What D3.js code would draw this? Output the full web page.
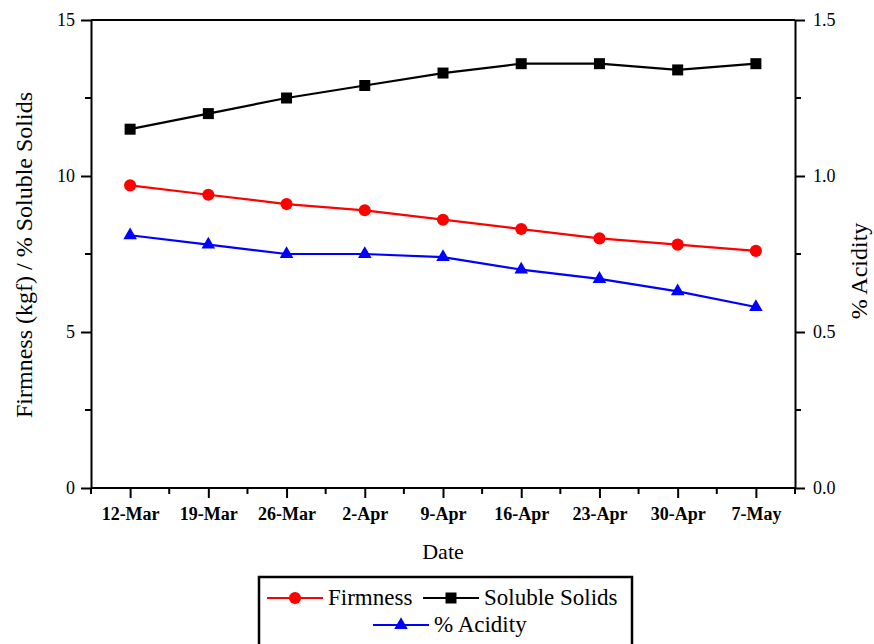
<!DOCTYPE html>
<html>
<head>
<meta charset="utf-8">
<script src="https://cdn.jsdelivr.net/npm/d3@7"></script>
<style>
  html, body { margin: 0; padding: 0; background: #fff; }
  svg { display: block; }
</style>
</head>
<body>
<svg id="chart" width="874" height="644"></svg>
<script>
// Sampling dates
const dates = ["12-Mar", "19-Mar", "26-Mar", "2-Apr", "9-Apr", "16-Apr", "23-Apr", "30-Apr", "7-May"];
// Left axis series
const firmness = [9.7, 9.4, 9.1, 8.9, 8.6, 8.3, 8.0, 7.8, 7.6];
const solubleSolids = [11.5, 12.0, 12.5, 12.9, 13.3, 13.6, 13.6, 13.4, 13.6];
// Right axis series
const acidity = [0.81, 0.78, 0.75, 0.75, 0.74, 0.70, 0.67, 0.63, 0.58];
// Axis ticks
const leftTicks = [0, 5, 10, 15];
const rightTicks = [0.0, 0.5, 1.0, 1.5];

const FONT = "Liberation Serif";
const svg = d3.select("#chart");
const plot = { left: 91, right: 795, top: 20, bottom: 488 };

const x = d3.scaleLinear().domain([-0.5, dates.length - 0.5]).range([plot.left, plot.right]);
const yL = d3.scaleLinear().domain([0, 15]).range([plot.bottom, plot.top]);
const yR = d3.scaleLinear().domain([0, 1.5]).range([plot.bottom, plot.top]);

// Frame top line
svg.append("line")
  .attr("x1", plot.left).attr("x2", plot.right)
  .attr("y1", plot.top).attr("y2", plot.top)
  .attr("stroke", "#000").attr("stroke-width", 2);

// Minor ticks (between categories and between major values)
const xMinor = d3.range(dates.length + 1).map(i => i - 0.5);
const g = svg.append("g");
g.selectAll(".xminor").data(xMinor).join("line")
  .attr("x1", d => x(d)).attr("x2", d => x(d))
  .attr("y1", plot.bottom).attr("y2", plot.bottom + 6)
  .attr("stroke", "#000").attr("stroke-width", 2);

const leftMinor = [2.5, 7.5, 12.5];
g.selectAll(".lminor").data(leftMinor).join("line")
  .attr("x1", plot.left - 6).attr("x2", plot.left)
  .attr("y1", d => yL(d)).attr("y2", d => yL(d))
  .attr("stroke", "#000").attr("stroke-width", 2);
const rightMinor = [0.25, 0.75, 1.25];
g.selectAll(".rminor").data(rightMinor).join("line")
  .attr("x1", plot.right).attr("x2", plot.right + 6)
  .attr("y1", d => yR(d)).attr("y2", d => yR(d))
  .attr("stroke", "#000").attr("stroke-width", 2);

// Bottom axis
const xAxis = d3.axisBottom(x)
  .tickValues(d3.range(dates.length))
  .tickFormat(i => dates[i])
  .tickSize(10).tickSizeOuter(0).tickPadding(9);
const gx = svg.append("g").attr("transform", `translate(0,${plot.bottom})`).call(xAxis);
gx.select(".domain").attr("stroke-width", 2).attr("d", `M${plot.left},0H${plot.right}`);
gx.selectAll(".tick line").attr("stroke-width", 2);
gx.selectAll(".tick text")
  .attr("font-family", FONT).attr("font-size", 18).attr("font-weight", "bold")
  .attr("fill", "#000");

// Left axis
const yAxisL = d3.axisLeft(yL).tickValues(leftTicks).tickFormat(d3.format("d"))
  .tickSize(10).tickSizeOuter(0).tickPadding(6);
const gyl = svg.append("g").attr("transform", `translate(${plot.left},0)`).call(yAxisL);
gyl.select(".domain").attr("stroke-width", 2);
gyl.selectAll(".tick line").attr("stroke-width", 2);
gyl.selectAll(".tick text").attr("font-family", FONT).attr("font-size", 18).attr("fill", "#000");

// Right axis
const yAxisR = d3.axisRight(yR).tickValues(rightTicks).tickFormat(d3.format(".1f"))
  .tickSize(10).tickSizeOuter(0).tickPadding(8);
const gyr = svg.append("g").attr("transform", `translate(${plot.right},0)`).call(yAxisR);
gyr.select(".domain").attr("stroke-width", 2);
gyr.selectAll(".tick line").attr("stroke-width", 2);
gyr.selectAll(".tick text").attr("font-family", FONT).attr("font-size", 18).attr("fill", "#000");

// Axis titles
svg.append("text")
  .attr("transform", `translate(32,255) rotate(-90)`)
  .attr("text-anchor", "middle").attr("font-family", FONT).attr("font-size", 24).attr("fill", "#000")
  .text("Firmness (kgf) / % Soluble Solids");
svg.append("text")
  .attr("transform", `translate(867,271) rotate(-90)`)
  .attr("text-anchor", "middle").attr("font-family", FONT).attr("font-size", 24).attr("fill", "#000")
  .text("% Acidity");
svg.append("text")
  .attr("x", (plot.left + plot.right) / 2).attr("y", 559)
  .attr("text-anchor", "middle").attr("font-family", FONT).attr("font-size", 22).attr("fill", "#000")
  .text("Date");

// Series
const series = [
  { name: "Soluble Solids", values: solubleSolids, y: yL, color: "#000", symbol: d3.symbolSquare, size: 121 },
  { name: "Firmness", values: firmness, y: yL, color: "#ff0000", symbol: d3.symbolCircle, size: 115 },
  { name: "% Acidity", values: acidity, y: yR, color: "#0000ff", symbol: d3.symbolTriangle, size: 80 }
];

series.forEach(s => {
  const line = d3.line().x((d, i) => x(i)).y(d => s.y(d));
  svg.append("path").datum(s.values)
    .attr("d", line).attr("fill", "none")
    .attr("stroke", s.color).attr("stroke-width", 2.2);
  svg.append("g").selectAll("path").data(s.values).join("path")
    .attr("transform", (d, i) => `translate(${x(i)},${s.y(d)})`)
    .attr("d", d3.symbol().type(s.symbol).size(s.size))
    .attr("fill", s.color);
});

// Legend
const legend = svg.append("g");
legend.append("rect")
  .attr("x", 259).attr("y", 577).attr("width", 373).attr("height", 80)
  .attr("fill", "#fff").attr("stroke", "#000").attr("stroke-width", 2.5);

const legendItems = [
  { s: series[1], x0: 267, y: 598 },
  { s: series[0], x0: 423, y: 598 },
  { s: series[2], x0: 373, y: 625 }
];
legendItems.forEach(it => {
  legend.append("line")
    .attr("x1", it.x0).attr("x2", it.x0 + 56)
    .attr("y1", it.y).attr("y2", it.y)
    .attr("stroke", it.s.color).attr("stroke-width", 2.2);
  legend.append("path")
    .attr("transform", `translate(${it.x0 + 28},${it.y})`)
    .attr("d", d3.symbol().type(it.s.symbol).size(it.s.size))
    .attr("fill", it.s.color);
  legend.append("text")
    .attr("x", it.x0 + 61).attr("y", it.y + 7)
    .attr("font-family", FONT).attr("font-size", 23).attr("fill", "#000")
    .text(it.s.name);
});
</script>
</body>
</html>
